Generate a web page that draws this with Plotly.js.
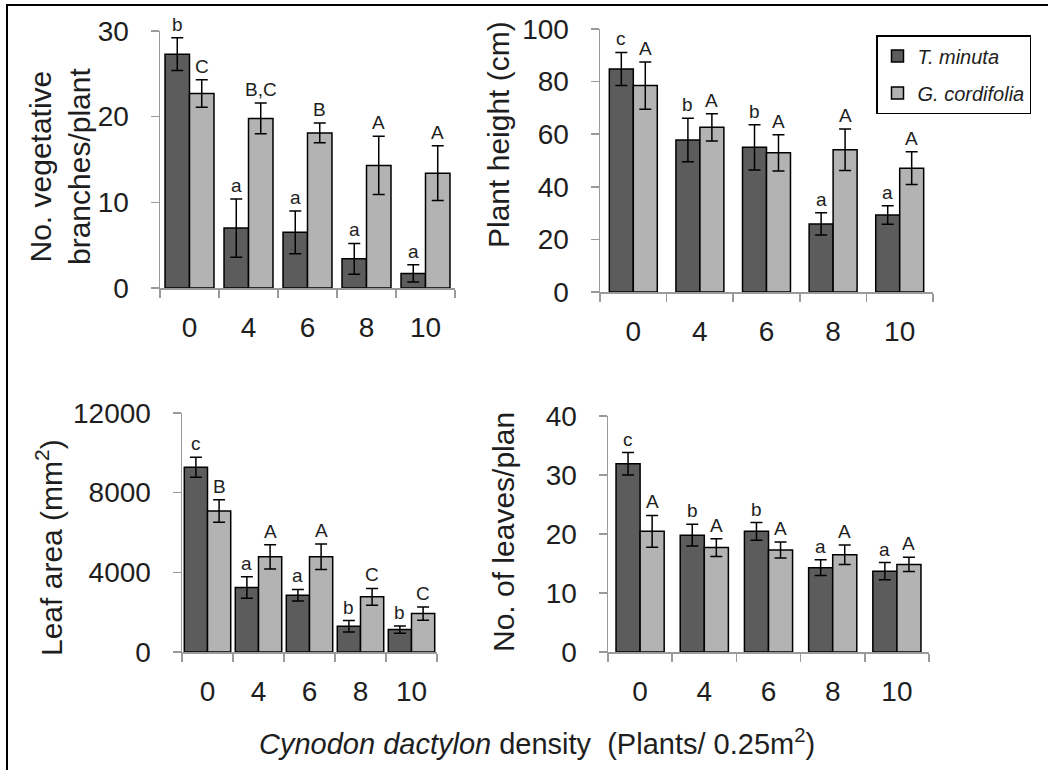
<!DOCTYPE html>
<html>
<head>
<meta charset="utf-8">
<script src="https://cdn.plot.ly/plotly-3.0.1.min.js"></script>
<style>
  html, body { margin: 0; padding: 0; background: #ffffff; }
  #chart { width: 1048px; height: 770px; }
</style>
</head>
<body>
<div id="chart"></div>
<script>
// ---------------- DATA ----------------
const categories = ['0', '4', '6', '8', '10'];
const seriesNames = ['T. minuta', 'G. cordifolia'];

// No. vegetative branches/plant
const branchesT = [27.3, 7.0, 6.5, 3.4, 1.7];
const branchesTErr = [1.9, 3.4, 2.5, 1.8, 1.0];
const branchesG = [22.7, 19.8, 18.1, 14.3, 13.4];
const branchesGErr = [1.6, 1.8, 1.15, 3.4, 3.2];
const branchesTLetters = ['b', 'a', 'a', 'a', 'a'];
const branchesGLetters = ['C', 'B,C', 'B', 'A', 'A'];

// Plant height (cm)
const heightT = [84.8, 57.8, 55.0, 25.9, 29.3];
const heightTErr = [6.3, 8.3, 8.6, 4.2, 3.5];
const heightG = [78.5, 62.6, 52.9, 54.1, 47.1];
const heightGErr = [9.0, 5.2, 6.9, 7.9, 6.2];
const heightTLetters = ['c', 'b', 'b', 'a', 'a'];
const heightGLetters = ['A', 'A', 'A', 'A', 'A'];

// Leaf area (mm2)
const leafT = [9280, 3240, 2850, 1290, 1125];
const leafTErr = [500, 540, 290, 290, 185];
const leafG = [7080, 4780, 4780, 2770, 1930];
const leafGErr = [560, 610, 640, 420, 330];
const leafTLetters = ['c', 'a', 'a', 'b', 'b'];
const leafGLetters = ['B', 'A', 'A', 'C', 'C'];

// No. of leaves/plant
const leavesT = [31.9, 19.8, 20.45, 14.3, 13.7];
const leavesTErr = [1.9, 1.85, 1.5, 1.35, 1.45];
const leavesG = [20.45, 17.7, 17.3, 16.5, 14.85];
const leavesGErr = [2.7, 1.5, 1.35, 1.65, 1.2];
const leavesTLetters = ['c', 'b', 'b', 'a', 'a'];
const leavesGLetters = ['A', 'A', 'A', 'A', 'A'];

// ---------------- LAYOUT HELPERS ----------------
const W = 1048, H = 770;
const px = v => v / W;          // x pixel -> paper
const py = v => 1 - v / H;      // y pixel -> paper

const FONT = '"Liberation Sans", Arial, "DejaVu Sans", sans-serif';
const TXT = '#1e1e1e';
const DARK = '#5c5c5c';
const LIGHT = '#b3b3b3';
const AXIS = '#9a9a9a';

// panel definitions (pixel boxes), axes ranges, bar widths
const panels = [
  {ax: '', x0: 160, x1: 455, yTop: 31, yBot: 288, range: [0, 30], dtick: 10, w: 0.415,
   T: branchesT, TE: branchesTErr, G: branchesG, GE: branchesGErr, TL: branchesTLetters, GL: branchesGLetters, legend: true},
  {ax: '2', x0: 600, x1: 933, yTop: 29, yBot: 292, range: [0, 100], dtick: 20, w: 0.36,
   T: heightT, TE: heightTErr, G: heightG, GE: heightGErr, TL: heightTLetters, GL: heightGLetters, legend: false},
  {ax: '3', x0: 182, x1: 437, yTop: 413, yBot: 652, range: [0, 12000], dtick: 4000, w: 0.455,
   T: leafT, TE: leafTErr, G: leafG, GE: leafGErr, TL: leafTLetters, GL: leafGLetters, legend: false},
  {ax: '4', x0: 608, x1: 929, yTop: 416, yBot: 652, range: [0, 40], dtick: 10, w: 0.375,
   T: leavesT, TE: leavesTErr, G: leavesG, GE: leavesGErr, TL: leavesTLetters, GL: leavesGLetters, legend: false}
];

const traces = [];
const annotations = [];
const layout = {
  width: W, height: H,
  margin: {l: 0, r: 0, t: 0, b: 0},
  paper_bgcolor: '#ffffff',
  plot_bgcolor: '#ffffff',
  font: {family: FONT, color: TXT},
  showlegend: true,
  legend: {
    x: px(876), y: py(35), xanchor: 'left', yanchor: 'top',
    bordercolor: '#000000', borderwidth: 1.5, bgcolor: '#ffffff',
    font: {family: FONT, size: 20, color: TXT, style: 'italic'},
    traceorder: 'grouped', tracegroupgap: 8, itemwidth: 30
  },
  shapes: [
    {type: 'line', xref: 'paper', yref: 'paper', x0: px(7), x1: px(7), y0: py(4), y1: py(770), line: {color: '#000000', width: 2}},
    {type: 'line', xref: 'paper', yref: 'paper', x0: px(6), x1: px(1048), y0: py(5), y1: py(5), line: {color: '#000000', width: 2}}
  ],
  annotations: annotations
};

panels.forEach(p => {
  const xa = 'x' + p.ax, ya = 'y' + p.ax;
  const common = {
    type: 'bar', x: categories, xaxis: xa, yaxis: ya, width: p.w,
    hoverinfo: 'skip'
  };
  traces.push(Object.assign({}, common, {
    name: '<i>' + seriesNames[0] + '</i>', y: p.T, offset: -p.w,
    legendgroup: 'T', showlegend: p.legend,
    marker: {color: DARK, line: {color: '#000000', width: 1.5}},
    error_y: {type: 'data', array: p.TE, visible: true, color: '#000000', thickness: 1.5, width: 6}
  }));
  traces.push(Object.assign({}, common, {
    name: '<i>' + seriesNames[1] + '</i>', y: p.G, offset: 0,
    legendgroup: 'G', showlegend: p.legend,
    marker: {color: LIGHT, line: {color: '#000000', width: 1.5}},
    error_y: {type: 'data', array: p.GE, visible: true, color: '#000000', thickness: 1.5, width: 6}
  }));

  layout['xaxis' + p.ax] = {
    domain: [px(p.x0), px(p.x1)], anchor: ya, type: 'category',
    range: [-0.5, categories.length - 0.5], fixedrange: true,
    showline: true, linecolor: AXIS, linewidth: 1.5,
    ticks: 'outside', tickson: 'boundaries', ticklen: 8, tickcolor: AXIS, tickwidth: 1.5,
    tickfont: {family: FONT, size: 28, color: TXT},
    ticklabelstandoff: 14,
    showgrid: false, zeroline: false
  };
  layout['yaxis' + p.ax] = {
    domain: [py(p.yBot), py(p.yTop)], anchor: xa,
    range: p.range, dtick: p.dtick, tick0: 0, fixedrange: true,
    tickformat: 'd',
    showline: true, linecolor: AXIS, linewidth: 1.5,
    ticks: 'outside', ticklen: 8, tickcolor: AXIS, tickwidth: 1.5,
    tickfont: {family: FONT, size: 28, color: TXT},
    ticklabelstandoff: 16,
    showgrid: false, zeroline: false
  };

  // significance letters
  categories.forEach((c, i) => {
    annotations.push({
      xref: xa, yref: ya, x: i - p.w / 2, y: p.T[i] + p.TE[i],
      text: p.TL[i], showarrow: false, xanchor: 'center', yanchor: 'bottom', yshift: 1,
      font: {family: FONT, size: 19, color: TXT}
    });
    annotations.push({
      xref: xa, yref: ya, x: i + p.w / 2, y: p.G[i] + p.GE[i],
      text: p.GL[i], showarrow: false, xanchor: 'center', yanchor: 'bottom', yshift: 1,
      font: {family: FONT, size: 19, color: TXT}
    });
  });
});

// axis titles (placed as paper annotations)
const titleFont = {family: FONT, size: 30, color: TXT};
annotations.push({xref: 'paper', yref: 'paper', x: px(60), y: py(167), text: 'No. vegetative<br>branches/plant',
  textangle: -90, showarrow: false, xanchor: 'center', yanchor: 'middle', font: titleFont});
annotations.push({xref: 'paper', yref: 'paper', x: px(498), y: py(135), text: 'Plant height (cm)',
  textangle: -90, showarrow: false, xanchor: 'center', yanchor: 'middle', font: titleFont});
annotations.push({xref: 'paper', yref: 'paper', x: px(49), y: py(548), text: 'Leaf area (mm<sup>2</sup>)',
  textangle: -90, showarrow: false, xanchor: 'center', yanchor: 'middle', font: titleFont});
annotations.push({xref: 'paper', yref: 'paper', x: px(503), y: py(654), text: 'No. of leaves/plan',
  textangle: -90, showarrow: false, xanchor: 'center', yanchor: 'bottom', font: titleFont});
annotations.push({xref: 'paper', yref: 'paper', x: px(537), y: py(742),
  text: '<i>Cynodon dactylon</i> density  (Plants/ 0.25m<sup>2</sup>)',
  showarrow: false, xanchor: 'center', yanchor: 'middle', font: {family: FONT, size: 29, color: TXT}});

Plotly.newPlot('chart', traces, layout, {displayModeBar: false, staticPlot: true});
</script>
</body>
</html>
